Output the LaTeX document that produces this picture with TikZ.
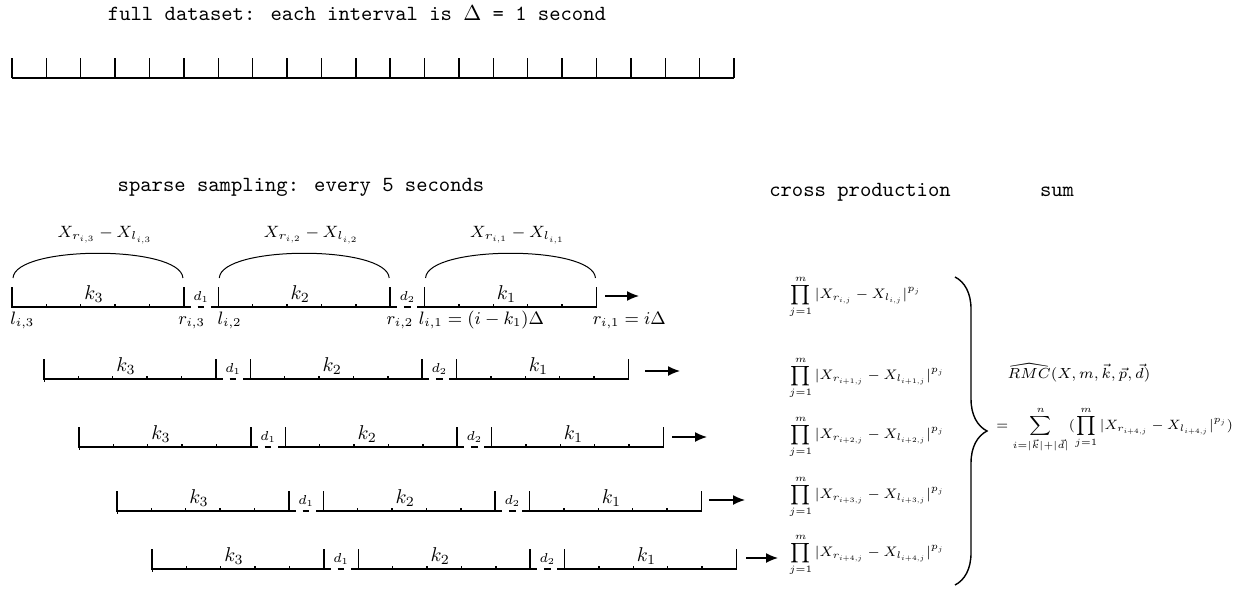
\RequirePackage{fix-cm}
\documentclass[tikz,border=0pt]{standalone}
\usepackage{amsmath}
\usepackage{amssymb}
\usepackage{fontspec}
\usetikzlibrary{%
  arrows.meta,
  decorations.pathreplacing,
  calc
}
\tikzset{
  ttlbl/.style={font=\fontsize{10.8}{13}\selectfont\ttfamily},
  seg/.style={line width=0.7pt},
  gapline/.style={line width=0.7pt,dash pattern=on 3.4pt off 3.4pt},
  arcline/.style={line width=0.5pt},
  klbl/.style={font=\fontsize{10}{12}\selectfont},
  dlbl/.style={font=\fontsize{6.5}{8}\selectfont},
  xlbl/.style={font=\fontsize{8.2}{10}\selectfont},
  endlbl/.style={font=\fontsize{9}{11}\selectfont,anchor=base west,inner sep=0pt},
  prodlbl/.style={font=\fontsize{7.2}{9}\selectfont,anchor=west,inner sep=0pt},
  toprod/.style={line width=0.7pt,-{Latex[length=6pt,width=5pt]}}
}
\begin{document}
\begin{tikzpicture}[x=0.5pt,y=-0.5pt]
  \useasboundingbox (0,0) rectangle (1256,588);
  \def\dt{34.38}
  % one sample row: start x, baseline y, name
  \def\sample#1#2#3{%
    \coordinate (#3) at (#1,#2);
    \foreach \pos/\kn in {0/3,6/2,12/1}{
      \draw[seg] ($(#3)+(\pos*\dt,-20)$) -- ($(#3)+(\pos*\dt,0)$)
        -- ($(#3)+(\pos*\dt+5*\dt,0)$) -- ++(0,-20);
      \foreach \tk in {1,...,4}
        \draw[seg] ($(#3)+(\pos*\dt+\tk*\dt,0)$) -- ++(0,-3);
      \node[klbl] (#3k\kn) at ($(#3)+(\pos*\dt+2.5*\dt-4,-13)$) {$k_{\kn}$};
    }
    \foreach \pos/\dn in {5/1,11/2}{
      \draw[gapline] ($(#3)+(\pos*\dt,0)$) -- ++(\dt,0);
      \node[dlbl] (#3d\dn) at ($(#3)+(\pos*\dt+0.5*\dt,-10)$) {$d_{\dn}$};
    }
  }

  % full dataset
  \node[ttlbl] (full) at (357,13) {full dataset: each interval is $\Delta$ = 1 second};
  \draw[seg] (12,78) -- (734,78);
  \foreach \i in {0,...,21}
    \draw[seg] (12+\i*\dt,78) -- ++(0,-20);

  % sparse sampling
  \node[ttlbl] (sparse) at (301,187) {sparse sampling: every 5 seconds};
  \node[ttlbl] (cross) at (860,192) {cross production};
  \node[ttlbl] (sum) at (1057,192) {sum};

  \sample{12}{307}{r1}
  \sample{44}{379}{r2}
  \sample{79}{447}{r3}
  \sample{117}{511}{r4}
  \sample{152}{569}{r5}
  \foreach \n in {2,...,5}
    \draw[line width=0.5pt] (r\n) -- ++(0,3);

  % arcs over the first row
  \foreach \pos/\kn in {0/3,6/2,12/1}{
    \draw[arcline] ($(r1)+(\pos*\dt+1,-29)$)
      .. controls ($(r1)+(\pos*\dt+3,-62)$) and ($(r1)+(\pos*\dt+5*\dt-3,-62)$)
      .. ($(r1)+(\pos*\dt+5*\dt-1,-29)$);
    \node[xlbl] (x\kn) at ($(r1)+(\pos*\dt+2.5*\dt+7,-72)$)
      {$X_{r_{i,\kn}}-X_{l_{i,\kn}}$};
  }

  % end points of the first row
  \node[endlbl] (l3) at ($(r1)+(-2,17)$) {$l_{i,3}$};
  \node[endlbl] (r3) at ($(r1)+(5*\dt-6,17)$) {$r_{i,3}$};
  \node[endlbl] (l2) at ($(r1)+(6*\dt-1,17)$) {$l_{i,2}$};
  \node[endlbl] (rr2) at ($(r1)+(11*\dt-4,17)$) {$r_{i,2}$};
  \node[endlbl] (l1) at ($(r1)+(12*\dt-6,17)$) {$l_{i,1}=(i-k_1)\Delta$};
  \node[endlbl] (rr1) at ($(r1)+(17*\dt-4,17)$) {$r_{i,1}=i\Delta$};

  % arrows
  \foreach \n/\xa/\xb/\ya in {1/605/639/296,2/645/680/371,3/672/707/437,4/709/745/500,5/746/778/558}{
    \coordinate (a\n) at (\xa,\ya);
    \coordinate (b\n) at (\xb,\ya);
    \draw[toprod] (a\n) -- (b\n);
  }

  % products
  \foreach \n/\yc/\idx in {1/297/{i},2/378/{i+1},3/437/{i+2},4/497/{i+3},5/555/{i+4}}
    \node[prodlbl] (p\n) at (789,\yc)
      {\scalebox{0.96}{$\displaystyle\prod_{j=1}^{m}|X_{r_{\idx,j}}-X_{l_{\idx,j}}|^{p_j}$}};

  % brace and sum
  \coordinate (bt) at (955,277);
  \coordinate (bb) at (955,585);
  \draw[line width=0.7pt,decorate,decoration={brace,amplitude=16pt}] (bt) -- (bb);
  \node[font=\fontsize{7.3}{9}\selectfont] (rmc) at (1079,373)
    {$\widehat{RMC}(X,m,\vec{k},\vec{p},\vec{d})$};
  \node[prodlbl] (total) at (996,430)
    {\scalebox{0.94}{$=\displaystyle\sum_{i=|\vec{k}|+|\vec{d}|}^{n}(\prod_{j=1}^{m}|X_{r_{i+4,j}}-X_{l_{i+4,j}}|^{p_j})$}};
\end{tikzpicture}
\end{document}
